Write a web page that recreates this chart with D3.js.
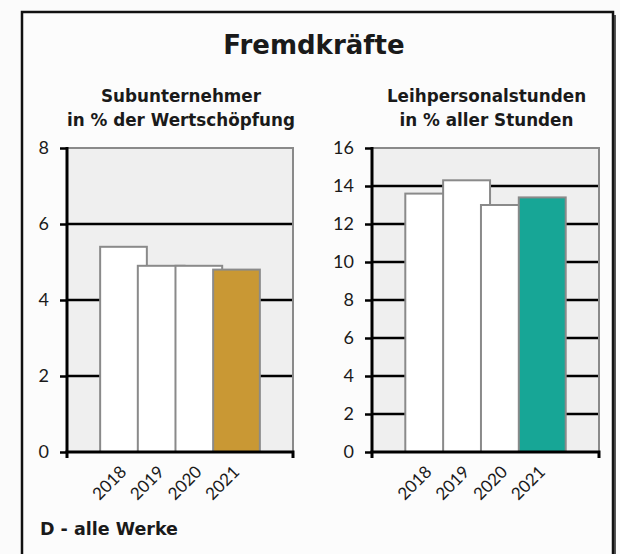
<!DOCTYPE html>
<html>
<head>
<meta charset="utf-8">
<script src="https://cdn.jsdelivr.net/npm/d3@7"></script>
<style>
  html, body { margin: 0; padding: 0; background: #fbfbfb; }
  svg { display: block; }
</style>
</head>
<body>
<script>
// data
var years = ["2018", "2019", "2020", "2021"];
var subValues = [5.4, 4.9, 4.9, 4.8];
var leihValues = [13.6, 14.3, 13.0, 13.4];
var subTicks = [0, 2, 4, 6, 8];
var leihTicks = [0, 2, 4, 6, 8, 10, 12, 14, 16];

var W = 620, H = 554;
var font = "Lato, 'DejaVu Sans', sans-serif";
var boldFont = "'DejaVu Sans', sans-serif";

var svg = d3.select("body")
    .append("svg")
    .attr("width", W)
    .attr("height", H);

// frame with a little shadow on the right
svg.append("rect")
    .attr("x", 25).attr("y", 15)
    .attr("width", 591).attr("height", 600)
    .attr("fill", "#555");
svg.append("rect")
    .attr("x", 22).attr("y", 12)
    .attr("width", 591).attr("height", 600)
    .attr("fill", "#fcfcfc")
    .attr("stroke", "#111")
    .attr("stroke-width", 2.5);

// title
svg.append("text")
    .attr("x", 314).attr("y", 54)
    .attr("text-anchor", "middle")
    .style("font-family", boldFont)
    .style("font-weight", "bold")
    .style("font-size", "26px")
    .style("fill", "#1a1a1a")
    .text("Fremdkräfte");

// footer
svg.append("text")
    .attr("x", 40).attr("y", 535)
    .style("font-family", boldFont)
    .style("font-weight", "bold")
    .style("font-size", "17.5px")
    .style("fill", "#1a1a1a")
    .text("D - alle Werke");

function drawPanel(opts) {
    var g = svg.append("g");

    var x = d3.scaleBand()
        .domain(years)
        .range([opts.x0, opts.x1])
        .paddingInner(0)
        .paddingOuter(1);

    var y = d3.scaleLinear()
        .domain([0, opts.max])
        .range([452, 148]);

    var barW = x.bandwidth() * 1.24;
    var cx = opts.x0 + (opts.x1 - opts.x0) / 2;

    // subtitle, two lines
    g.selectAll(".sub")
        .data(opts.title)
        .enter()
        .append("text")
        .attr("x", cx + 1)
        .attr("y", function(d, i) { return 102 + i * 24; })
        .attr("text-anchor", "middle")
        .style("font-family", boldFont)
        .style("font-weight", "bold")
        .style("font-size", "16.8px")
        .style("fill", "#1a1a1a")
        .text(function(d) { return d; });

    // plot area
    g.append("rect")
        .attr("x", opts.x0).attr("y", y(opts.max))
        .attr("width", opts.x1 - opts.x0)
        .attr("height", y(0) - y(opts.max))
        .attr("fill", "#efefef");

    // gridlines (black, behind the bars)
    g.selectAll(".grid")
        .data(opts.ticks.filter(function(d) { return d > 0 && d < opts.max; }))
        .enter()
        .append("line")
        .attr("x1", opts.x0).attr("x2", opts.x1)
        .attr("y1", function(d) { return y(d); })
        .attr("y2", function(d) { return y(d); })
        .attr("stroke", "#000")
        .attr("stroke-width", 2.5);

    // bars, later ones overlap earlier ones
    g.selectAll(".bar")
        .data(opts.values)
        .enter()
        .append("rect")
        .attr("x", function(d, i) { return x(years[i]) + x.bandwidth() / 2 - barW / 2; })
        .attr("y", function(d) { return y(d); })
        .attr("width", barW)
        .attr("height", function(d) { return y(0) - y(d); })
        .attr("fill", function(d, i) { return i === years.length - 1 ? opts.color : "#fff"; })
        .attr("stroke", "#8a8a8a")
        .attr("stroke-width", 2);

    // grey border top and right
    g.append("path")
        .attr("d", "M" + opts.x0 + "," + y(opts.max) + "H" + opts.x1 + "V" + y(0))
        .attr("fill", "none")
        .attr("stroke", "#8a8a8a")
        .attr("stroke-width", 2);

    // y axis
    var yAxis = g.append("g")
        .attr("transform", "translate(" + opts.x0 + ",0)")
        .call(d3.axisLeft(y).tickValues(opts.ticks).tickSize(7).tickPadding(11));
    yAxis.select(".domain").attr("stroke", "#000").attr("stroke-width", 3)
        .attr("d", "M0," + (y(opts.max) - 1) + "V" + (y(0) + 1));
    yAxis.selectAll(".tick line").attr("stroke", "#000").attr("stroke-width", 2.5);
    yAxis.selectAll(".tick text")
        .style("font-family", font)
        .style("font-size", "18px")
        .style("fill", "#1a1a1a");

    // x axis
    g.append("path")
        .attr("d", "M" + opts.x0 + "," + (y(0) + 6) + "V" + y(0) + "H" + opts.x1 + "V" + (y(0) + 6))
        .attr("fill", "none")
        .attr("stroke", "#000")
        .attr("stroke-width", 3);

    g.selectAll(".year")
        .data(years)
        .enter()
        .append("text")
        .attr("text-anchor", "end")
        .attr("transform", function(d) {
            return "translate(" + (x(d) + x.bandwidth() / 2 + 4) + "," + (y(0) + 21) + ") rotate(-45)";
        })
        .style("font-family", font)
        .style("font-size", "17px")
        .style("fill", "#1a1a1a")
        .text(function(d) { return d; });
}

drawPanel({
    x0: 67, x1: 293, max: 8,
    ticks: subTicks, values: subValues, color: "#c99834",
    title: ["Subunternehmer", "in % der Wertschöpfung"]
});

drawPanel({
    x0: 372, x1: 599, max: 16,
    ticks: leihTicks, values: leihValues, color: "#17a696",
    title: ["Leihpersonalstunden", "in % aller Stunden"]
});
</script>
</body>
</html>
